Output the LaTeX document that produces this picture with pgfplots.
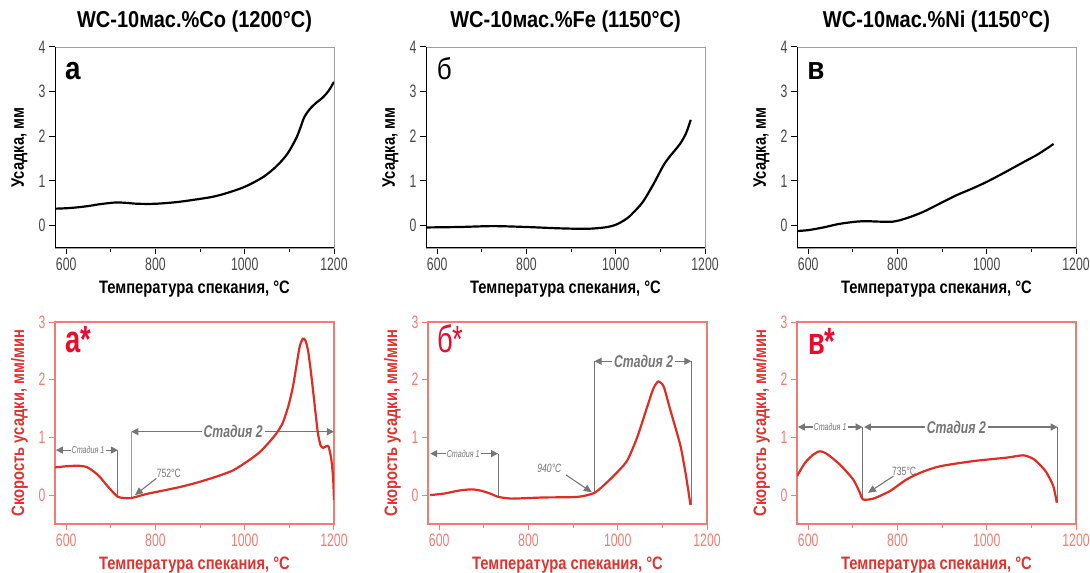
\documentclass[border=0pt]{standalone}
\usepackage{fontspec}
\setmainfont{Liberation Sans}
\newfontfamily\tickf{Liberation Sans}[FakeStretch=0.68]
\newfontfamily\annf{Liberation Sans}[FakeStretch=0.72]
\newfontfamily\labf{Liberation Sans}[FakeStretch=0.82]
\newfontfamily\titf{Liberation Sans}[FakeStretch=0.87]
\usepackage{pgfplots}
\pgfplotsset{compat=1.18}
\usetikzlibrary{arrows.meta}

\definecolor{curvered}{RGB}{224,45,35}
\definecolor{axred}{RGB}{240,125,115}
\definecolor{labred}{RGB}{226,50,45}
\definecolor{letred}{RGB}{236,10,45}
\definecolor{tickgray}{RGB}{70,70,70}
\definecolor{anngray}{RGB}{118,118,118}

\tikzset{
  stg/.style={anngray, line width=1.1pt},
  dar/.style={anngray, line width=1.1pt, {Triangle[length=7pt,width=7pt]}-{Triangle[length=7pt,width=7pt]}},
  sar/.style={anngray, line width=1.1pt, -{Triangle[length=8pt,width=7pt]}},
}

\pgfplotsset{
  base/.style={
    scale only axis, width=279pt, height=201pt, anchor=south west,
    xmin=575, xmax=1200, ymin=-0.5,
    xtick={600,800,1000,1200}, minor xtick={700,900,1100},
    tick align=outside, tick pos=left,
    major tick length=6pt, minor tick length=4pt,
    /pgf/number format/assume math mode=true,
    /pgf/number format/set thousands separator={},
    ticklabel style={font=\tickf\fontsize{18}{20}\selectfont},
    xlabel={Температура спекания, °C},
    every axis x label/.style={at={(axis description cs:0.5,-0.205)}, anchor=center},
    every axis y label/.style={at={(axis description cs:-0.127,0.5)}, rotate=90, anchor=center},
  },
  top/.style={base,
    ymax=4, ytick={0,1,2,3,4},
    axis line style={gray!75, line width=0.8pt},
    major tick style={black, line width=1pt},
    minor tick style={black, line width=0.8pt},
    ticklabel style={text=tickgray},
    xlabel style={font=\labf\bfseries\fontsize{18}{20}\selectfont},
    ylabel style={font=\labf\bfseries\fontsize{18}{20}\selectfont},
    ylabel={Усадка, мм},
    title style={at={(axis description cs:0.5,1.095)}, anchor=center, font=\titf\bfseries\fontsize{23}{26}\selectfont},
  },
  bot/.style={base,
    height=202pt, ymax=3, ytick={0,1,2,3},
    axis line style={axred, line width=1.2pt},
    major tick style={axred, line width=1pt},
    minor tick style={axred, line width=0.8pt},
    ticklabel style={text=axred},
    xlabel style={text=labred, font=\labf\bfseries\fontsize{18}{20}\selectfont},
    ylabel style={text=labred, font=\labf\bfseries\fontsize{18}{20}\selectfont},
    ylabel={Скорость усадки, мм/мин},
  },
  blk/.style={black, line width=2.2pt, smooth, tension=0.5},
  rd/.style={curvered, line width=2.2pt, smooth, tension=0.4},
}
\newcommand{\sone}{\itshape\annf\fontsize{10}{12}\selectfont}
\newcommand{\stwo}{\bfseries\itshape\annf\fontsize{17}{19}\selectfont}
\newcommand{\tmp}{\annf\fontsize{12}{14}\selectfont}

\begin{document}
\begin{tikzpicture}
\path[use as bounding box] (0,0) rectangle (1090pt,573pt);

% ---- top row: shrinkage ----
\begin{axis}[top, at={(55pt,325pt)}, title={WC-10мас.\%Co (1200°C)}]
\addplot[blk] coordinates {
(575,0.38) (600,0.39) (625,0.41) (650,0.44) (675,0.48) (700,0.51) (715,0.52)
(735,0.51) (760,0.49) (800,0.49) (850,0.53) (900,0.60) (930,0.65) (960,0.73)
(1000,0.87) (1040,1.08) (1070,1.32) (1095,1.60) (1115,1.95) (1125,2.20)
(1133,2.42) (1145,2.60) (1160,2.75) (1175,2.87) (1188,3.02) (1200,3.22)};
\draw[black, line width=1.5pt] (rel axis cs:0,1) -- (rel axis cs:0,0) -- (rel axis cs:1,0);
\node[anchor=base west, inner sep=0pt, font=\titf\bfseries\fontsize{32}{34}\selectfont] at (rel axis cs:0.036,0.836) {а};
\end{axis}

\begin{axis}[top, at={(426pt,325pt)}, title={WC-10мас.\%Fe (1150°C)}]
\addplot[blk] coordinates {
(575,-0.04) (650,-0.03) (725,-0.01) (800,-0.03) (875,-0.06) (935,-0.07)
(975,-0.04) (1000,0.02) (1025,0.16) (1045,0.35) (1062,0.55) (1084,0.92)
(1107,1.35) (1122,1.56) (1144,1.83) (1158,2.08) (1168,2.37)};
\draw[black, line width=1.5pt] (rel axis cs:0,1) -- (rel axis cs:0,0) -- (rel axis cs:1,0);
\node[anchor=base west, inner sep=0pt, font=\titf\fontsize{30}{32}\selectfont] at (rel axis cs:0.038,0.836) {б};
\end{axis}

\begin{axis}[top, at={(797pt,325pt)}, title={WC-10мас.\%Ni (1150°C)}]
\addplot[blk] coordinates {
(575,-0.12) (600,-0.10) (634,-0.04) (670,0.04) (708,0.09) (731,0.10) (760,0.09)
(790,0.09) (805,0.12) (830,0.20) (858,0.31) (890,0.47) (932,0.68) (965,0.82)
(1000,0.98) (1040,1.19) (1082,1.42) (1115,1.60) (1150,1.83)};
\draw[black, line width=1.5pt] (rel axis cs:0,1) -- (rel axis cs:0,0) -- (rel axis cs:1,0);
\node[anchor=base west, inner sep=0pt, font=\titf\bfseries\fontsize{32}{34}\selectfont] at (rel axis cs:0.036,0.836) {в};
\end{axis}

% ---- bottom row: shrinkage rate ----
\begin{axis}[bot, at={(55pt,49pt)}]
\draw[stg] (axis cs:716,0.78) -- (axis cs:716,-0.03);
\draw[axred, line width=1.1pt] (axis cs:746,1.10) -- (axis cs:746,-0.05);
\draw[dar] (axis cs:577,0.78) -- (axis cs:716,0.78);
\draw[dar] (axis cs:746,1.10) -- (axis cs:1200,1.10);
\node[fill=white, inner sep=1pt, text=anngray, font=\sone] at (axis cs:649,0.78) {Стадия 1};
\node[fill=white, inner sep=2pt, text=anngray, font=\stwo] at (axis cs:974,1.10) {Стадия 2};
\draw[sar] (axis cs:802,0.29) -- (axis cs:754,0.0);
\node[text=anngray, font=\tmp] at (axis cs:830,0.38) {752°C};
\addplot[rd] coordinates {
(575,0.48) (600,0.50) (625,0.51) (645,0.49) (660,0.42) (675,0.32) (690,0.18)
(705,0.05) (716,-0.03) (730,-0.05) (746,-0.05) (780,0.02) (824,0.09) (860,0.15)
(899,0.23) (940,0.33) (974,0.43) (1005,0.58) (1033,0.74) (1055,0.92) (1071,1.07)
(1085,1.25) (1098,1.55) (1108,1.88) (1116,2.25) (1123,2.57) (1130,2.71)
(1136,2.68) (1142,2.50) (1148,2.15) (1153,1.82) (1159,1.40) (1164,1.07)
(1170,0.86) (1176,0.82) (1183,0.85) (1188,0.84) (1194,0.62) (1198,0.30) (1200,-0.08)};
\node[anchor=base west, inner sep=0pt, text=letred, font=\annf\bfseries\fontsize{38}{40}\selectfont] at (rel axis cs:0.036,0.847) {а*};
\end{axis}

\begin{axis}[bot, at={(428pt,49pt)}]
\draw[stg] (axis cs:732,0.72) -- (axis cs:732,-0.03);
\draw[stg] (axis cs:948,2.32) -- (axis cs:948,0.04);
\draw[stg] (axis cs:1165,2.32) -- (axis cs:1165,-0.17);
\draw[dar] (axis cs:580,0.72) -- (axis cs:732,0.72);
\draw[dar] (axis cs:948,2.32) -- (axis cs:1165,2.32);
\node[fill=white, inner sep=1pt, text=anngray, font=\sone] at (axis cs:654,0.72) {Стадия 1};
\node[fill=white, inner sep=2pt, text=anngray, font=\stwo] at (axis cs:1058,2.32) {Стадия 2};
\draw[sar] (axis cs:884,0.35) -- (axis cs:942,0.05);
\node[text=anngray, font=\itshape\tmp] at (axis cs:847,0.47) {940°C};
\addplot[rd] coordinates {
(580,0.00) (613,0.03) (645,0.08) (673,0.10) (695,0.075) (717,0.02) (732,-0.03)
(762,-0.06) (800,-0.05) (836,-0.04) (910,-0.03) (948,0.04) (977,0.23) (1003,0.43)
(1022,0.61) (1044,1.01) (1066,1.53) (1080,1.85) (1091,1.97) (1103,1.88)
(1118,1.47) (1130,1.15) (1141,0.84) (1152,0.38) (1163,-0.17)};
\node[anchor=base west, inner sep=0pt, text=letred, font=\annf\fontsize{38}{40}\selectfont] at (rel axis cs:0.032,0.847) {б*};
\end{axis}

\begin{axis}[bot, at={(797pt,49pt)}]
\draw[stg] (axis cs:722,1.18) -- (axis cs:722,-0.07);
\draw[stg] (axis cs:1159,1.18) -- (axis cs:1159,-0.13);
\draw[dar] (axis cs:577,1.18) -- (axis cs:722,1.18);
\draw[dar] (axis cs:725,1.18) -- (axis cs:1159,1.18);
\node[fill=white, inner sep=1pt, text=anngray, font=\sone] at (axis cs:649,1.18) {Стадия 1};
\node[fill=white, inner sep=2pt, text=anngray, font=\stwo] at (axis cs:932,1.18) {Стадия 2};
\draw[sar] (axis cs:791,0.33) -- (axis cs:734,0.04);
\node[text=anngray, font=\tmp] at (axis cs:815,0.42) {735°C};
\addplot[rd] coordinates {
(575,0.33) (593,0.56) (611,0.70) (626,0.76) (641,0.72) (671,0.53) (701,0.27)
(716,0.04) (723,-0.075) (746,-0.06) (783,0.07) (820,0.27) (855,0.40) (895,0.50)
(970,0.59) (1045,0.65) (1082,0.69) (1104,0.63) (1120,0.52) (1134,0.39)
(1149,0.16) (1157,-0.13)};
\node[anchor=base west, inner sep=0pt, text=letred, font=\annf\bfseries\fontsize{38}{40}\selectfont] at (rel axis cs:0.039,0.84) {в*};
\end{axis}
\end{tikzpicture}
\end{document}
